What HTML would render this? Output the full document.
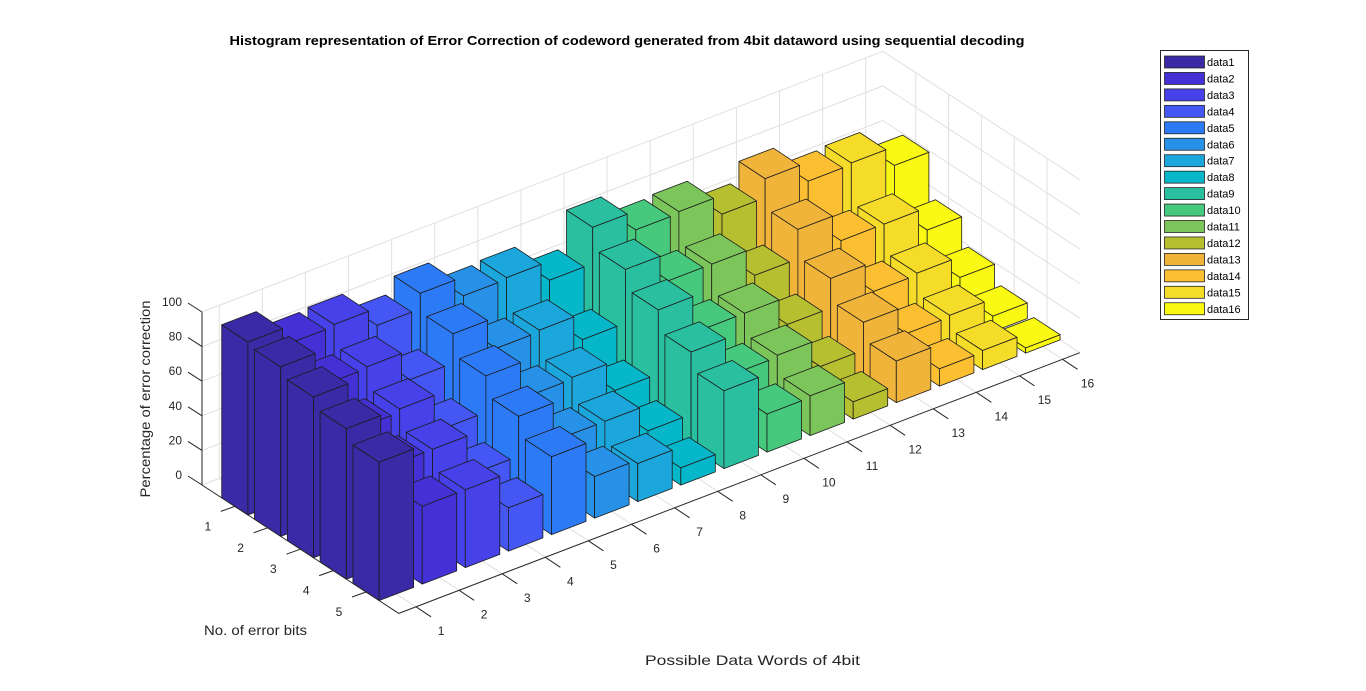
<!DOCTYPE html>
<html><head><meta charset="utf-8"><style>
html,body{margin:0;padding:0;background:#fff;}
svg{display:block;font-family:"Liberation Sans",Arial,sans-serif;}
</style></head><body>
<svg id="chart" width="1366" height="691" viewBox="0 0 1366 691" xmlns="http://www.w3.org/2000/svg">
<rect width="1366" height="691" fill="#fff"/>
<text x="627" y="45" text-anchor="middle" font-size="13" font-weight="bold" fill="#000" textLength="795" lengthAdjust="spacingAndGlyphs">Histogram representation of Error Correction of codeword generated from 4bit dataword using sequential decoding</text>
<g id="grid"></g>
<g id="bars"></g>
<g id="axes"></g>
<text transform="translate(150,399) rotate(-90)" text-anchor="middle" font-size="14" fill="#262626" textLength="197" lengthAdjust="spacingAndGlyphs">Percentage of error correction</text>
<text x="204" y="635" font-size="14" fill="#262626" textLength="103" lengthAdjust="spacingAndGlyphs">No. of error bits</text>
<text x="645" y="665" font-size="14" fill="#262626" textLength="215" lengthAdjust="spacingAndGlyphs">Possible Data Words of 4bit</text>
<g id="legend"></g>
</svg>
<script>
// ---- data ----
const seriesNames = ["data1","data2","data3","data4","data5","data6","data7","data8","data9","data10","data11","data12","data13","data14","data15","data16"];
const errorBits = [1,2,3,4,5];
const data1 = [100,98,93,87,80];
const data2 = [90,78,65,56,45];
const data3 = [91,79,67,56,45];
const data4 = [81,62,46,33,25];
const data5 = [90,79,67,56,45];
const data6 = [79,61,46,34,24];
const data7 = [80,62,47,34,22];
const data8 = [69,47,30,19,10];
const data9 = [90,78,67,55,45];
const data10 = [79,62,46,33,22];
const data11 = [80,62,46,34,23];
const data12 = [69,46,30,18,10];
const data13 = [80,63,47,34,24];
const data14 = [69,47,30,18,10];
const data15 = [70,47,31,19,11];
const data16 = [59,34,19,9,3];
const seriesValues = [data1,data2,data3,data4,data5,data6,data7,data8,data9,data10,data11,data12,data13,data14,data15,data16];
const zTicks = [0,20,40,60,80,100];
const xTicks = [1,2,3,4,5,6,7,8,9,10,11,12,13,14,15,16];
const yTicks = [1,2,3,4,5];
const colors = ["#3a2aa6","#4331d6","#4641e8","#4456f4","#2c7af6","#2691e6","#1ca7dc","#06b6c9","#29bf9f","#46c97c","#7cc55a","#b6bf2f","#f0b43b","#fcbf31","#f5dc28","#f9f914"];

// ---- projection ----
const O = [202,485], EX=[43.1,-16.5], EY=[32.8,21.4], EZ=1.73;
const X0=0.6, X1=16.4, Y0=0, Y1=6, ZMAX=100;
function P(x,y,z){return [O[0]+(x-X0)*EX[0]+(y-Y0)*EY[0], O[1]+(x-X0)*EX[1]+(y-Y0)*EY[1]-z*EZ];}
function pts(a){return a.map(p=>{const q=P(p[0],p[1],p[2]);return q[0].toFixed(1)+","+q[1].toFixed(1);}).join(" ");}
const NS="http://www.w3.org/2000/svg";
function mk(tag,attrs,parent){const e=document.createElementNS(NS,tag);for(const k in attrs)e.setAttribute(k,attrs[k]);parent.appendChild(e);return e;}
function line(p,q,attrs,parent){const a=P(...p),b=P(...q);return mk("line",Object.assign({x1:a[0],y1:a[1],x2:b[0],y2:b[1]},attrs),parent);}

// ---- grid ----
const grid=document.getElementById("grid");
const gs={stroke:"#e0e0e0","stroke-width":1};
zTicks.forEach(z=>{
  let l=line([X0,Y0,z],[X1,Y0,z],gs,grid);
  
  
  l=line([X1,Y0,z],[X1,Y1,z],gs,grid);
  
  
});
xTicks.forEach(x=>{
  let l=line([x,Y0,0],[x,Y0,ZMAX],gs,grid);
  
  
  l=line([x,Y0,0],[x,Y1,0],gs,grid);
  
  
});
yTicks.forEach(y=>{
  let l=line([X1,y,0],[X1,y,ZMAX],gs,grid);
  
  
  l=line([X0,y,0],[X1,y,0],gs,grid);
  
  
});

// ---- bars ----
const barsG=document.getElementById("bars");
const list=[];
seriesValues.forEach((vals,si)=>{vals.forEach((h,yi)=>{list.push({x:xTicks[si],y:errorBits[yi],h:h,c:colors[si],s:si});});});
list.sort((a,b)=>(a.y-a.x)-(b.y-b.x));
list.forEach(b=>{
  const xa=b.x-0.4,xb=b.x+0.4,ya=b.y-0.4,yb=b.y+0.4,h=b.h;
  const g=mk("g",{},barsG);
  
  
  const st={fill:b.c,stroke:"#1c1c1c","stroke-width":0.8,"stroke-linejoin":"round"};
  mk("polygon",Object.assign({points:pts([[xa,ya,0],[xa,yb,0],[xa,yb,h],[xa,ya,h]])},st),g);
  mk("polygon",Object.assign({points:pts([[xa,yb,0],[xb,yb,0],[xb,yb,h],[xa,yb,h]])},st),g);
  mk("polygon",Object.assign({points:pts([[xa,ya,h],[xb,ya,h],[xb,yb,h],[xa,yb,h]])},st),g);
});

// ---- axes ----
const ax=document.getElementById("axes");
const as={stroke:"#262626","stroke-width":1};
let a=line([X0,Y0,0],[X0,Y0,ZMAX],as,ax);


a=line([X0,Y0,0],[X0,Y1,0],as,ax);


a=line([X0,Y1,0],[X1,Y1,0],as,ax);


const ts={"font-size":12,fill:"#262626"};
zTicks.forEach(z=>{
  const p=P(X0,Y0,z);
  const t=mk("line",{x1:p[0],y1:p[1],x2:p[0]-14,y2:p[1]-9,stroke:"#262626","stroke-width":1},ax);
  
  
  const tx=mk("text",Object.assign({x:p[0]-20,y:p[1]-6,"text-anchor":"end"},ts),ax);
  tx.textContent=z;
  
  
});
yTicks.forEach(y=>{
  const p=P(X0,y,0);
  const t=mk("line",{x1:p[0],y1:p[1],x2:p[0]-14,y2:p[1]+5,stroke:"#262626","stroke-width":1},ax);
  
  
  const tx=mk("text",Object.assign({x:p[0]-27,y:p[1]+24,"text-anchor":"middle"},ts),ax);
  tx.textContent=y;
  
  
});
xTicks.forEach(x=>{
  const p=P(x,Y1,0);
  const t=mk("line",{x1:p[0],y1:p[1],x2:p[0]+15,y2:p[1]+10,stroke:"#262626","stroke-width":1},ax);
  
  
  const tx=mk("text",Object.assign({x:p[0]+25,y:p[1]+28,"text-anchor":"middle"},ts),ax);
  tx.textContent=x;
  
  
});

// ---- legend ----
const lg=document.getElementById("legend");
const box=mk("rect",{x:1160.5,y:50.5,width:88,height:269,fill:"#fff",stroke:"#262626","stroke-width":1},lg);


seriesNames.forEach((n,i)=>{
  const cy=62+i*16.45;
  const g=mk("g",{},lg);
  
  
  mk("rect",{x:1164.5,y:cy-6,width:40,height:12,fill:colors[i],stroke:"#262626","stroke-width":0.8},g);
  const t=mk("text",{x:1207,y:cy+4,"font-size":11,fill:"#000"},g);
  t.textContent=n;
});
</script>
</body></html>
